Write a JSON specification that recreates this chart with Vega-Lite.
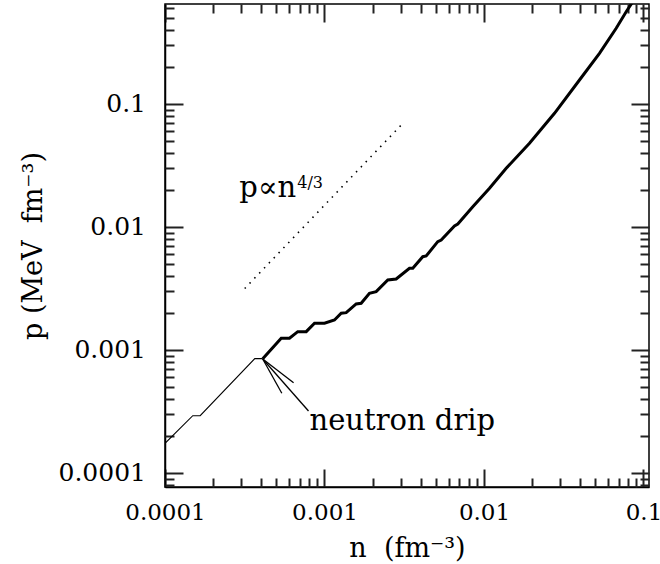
{
  "$schema": "https://vega.github.io/schema/vega-lite/v6.json",
  "width": 484,
  "height": 483,
  "autosize": {"type": "none"},
  "padding": {"left": 165, "top": 4, "right": 11, "bottom": 77},
  "background": "white",
  "config": {
    "view": {"stroke": "black", "strokeWidth": 1.5},
    "axis": {
      "domainColor": "black", "domainWidth": 1.5,
      "labelFont": "DejaVu Serif", "labelFontSize": 25, "labelColor": "black",
      "titleFont": "DejaVu Serif", "titleFontSize": 27, "titleFontWeight": "normal", "titleColor": "black",
      "grid": false, "labelFlush": false, "labelOverlap": false, "labelBound": false
    },
    "text": {"font": "DejaVu Serif", "color": "black"}
  },
  "datasets": {
    "outer": [
      {"n": 0.0001, "p": 0.0001743},
      {"n": 0.0001493, "p": 0.0002923},
      {"n": 0.0001662, "p": 0.0002923},
      {"n": 0.0003656, "p": 0.00085},
      {"n": 0.00041, "p": 0.00085}
    ],
    "inner": [
      {"n": 0.00041, "p": 0.00085},
      {"n": 0.0005354, "p": 0.001245},
      {"n": 0.0006035, "p": 0.001245},
      {"n": 0.00068, "p": 0.001409},
      {"n": 0.000768, "p": 0.001409},
      {"n": 0.000866, "p": 0.001649},
      {"n": 0.001, "p": 0.001649},
      {"n": 0.001155, "p": 0.001753},
      {"n": 0.001273, "p": 0.001988},
      {"n": 0.001368, "p": 0.00201},
      {"n": 0.00158, "p": 0.002366},
      {"n": 0.001698, "p": 0.002397},
      {"n": 0.001914, "p": 0.002891},
      {"n": 0.002109, "p": 0.002979},
      {"n": 0.002494, "p": 0.003708},
      {"n": 0.002814, "p": 0.003778},
      {"n": 0.00341, "p": 0.004615},
      {"n": 0.003577, "p": 0.004615},
      {"n": 0.004132, "p": 0.005734},
      {"n": 0.004341, "p": 0.00581},
      {"n": 0.005132, "p": 0.007595},
      {"n": 0.005392, "p": 0.00784},
      {"n": 0.006531, "p": 0.01019},
      {"n": 0.00685, "p": 0.01057},
      {"n": 0.008507, "p": 0.01462},
      {"n": 0.01083, "p": 0.02064},
      {"n": 0.01378, "p": 0.03},
      {"n": 0.01929, "p": 0.0479},
      {"n": 0.02767, "p": 0.084},
      {"n": 0.0397, "p": 0.1567},
      {"n": 0.05297, "p": 0.2584},
      {"n": 0.06744, "p": 0.4125},
      {"n": 0.0779, "p": 0.5628},
      {"n": 0.0857, "p": 0.679}
    ],
    "slope": [
      {"n": 0.000316, "p": 0.00316},
      {"n": 0.00313, "p": 0.0705}
    ],
    "arrow": [
      {"n": 0.00041, "p": 0.000845, "n2": 0.00064, "p2": 0.000542},
      {"n": 0.00041, "p": 0.000845, "n2": 0.00054, "p2": 0.000445},
      {"n": 0.00041, "p": 0.000845, "n2": 0.000794, "p2": 0.000319}
    ],
    "notes": [
      {"n": 0.000665, "p": 0.01763, "label": "p∝n", "kind": "main"},
      {"n": 0.000665, "p": 0.02075, "label": "4/3", "kind": "sup"},
      {"n": 0.000805, "p": 0.0002237, "label": "neutron drip", "kind": "drip"}
    ]
  },
  "resolve": {"axis": {"x": "independent", "y": "independent"}},
  "layer": [
    {
      "data": {"name": "outer"},
      "mark": {"type": "line", "color": "black", "strokeWidth": 1.1, "clip": true},
      "encoding": {
        "x": {
          "field": "n", "type": "quantitative",
          "scale": {"type": "log", "domain": [0.0001, 0.1083], "nice": false},
          "axis": {
            "orient": "bottom",
            "values": [0.0001, 0.001, 0.01, 0.1],
            "format": "~g",
            "tickSize": -18, "tickColor": "#222222", "tickWidth": 2,
            "labelPadding": 32.5,
            "labelFontSize": 23,
            "title": "n\u00a0 (fm⁻³)",
            "titleY": 69,
            "titleBaseline": "alphabetic"
          }
        },
        "y": {
          "field": "p", "type": "quantitative",
          "scale": {"type": "log", "domain": [0.0000769, 0.65], "nice": false},
          "axis": {
            "orient": "left",
            "values": [0.0001, 0.001, 0.01, 0.1],
            "format": "~g",
            "tickSize": -18, "tickColor": "#222222", "tickWidth": 2,
            "labelPadding": 37.5,
            "title": "p\u00a0(MeV\u00a0 fm⁻³)",
            "titleAngle": 270,
            "titleX": -132,
            "titleY": 241.5,
            "titleAlign": "center",
            "titleBaseline": "middle"
          }
        }
      }
    },
    {
      "data": {"name": "inner"},
      "mark": {"type": "line", "color": "black", "strokeWidth": 3, "clip": true},
      "encoding": {
        "x": {
          "field": "n", "type": "quantitative",
          "scale": {"type": "log", "domain": [0.0001, 0.1083], "nice": false},
          "axis": {"orient": "top", "values": [0.0001, 0.001, 0.01, 0.1], "labels": false, "domain": false, "tickSize": -18, "tickColor": "#222222", "tickWidth": 2, "title": null}
        },
        "y": {
          "field": "p", "type": "quantitative",
          "scale": {"type": "log", "domain": [0.0000769, 0.65], "nice": false},
          "axis": {"orient": "right", "values": [0.0001, 0.001, 0.01, 0.1], "labels": false, "domain": false, "tickSize": -18, "tickColor": "#222222", "tickWidth": 2, "title": null}
        }
      }
    },
    {
      "data": {"name": "slope"},
      "mark": {"type": "line", "color": "black", "strokeWidth": 1.6, "strokeDash": [1.5, 5.5], "clip": true},
      "encoding": {
        "x": {
          "field": "n", "type": "quantitative",
          "scale": {"type": "log", "domain": [0.0001, 0.1083], "nice": false},
          "axis": {"orient": "bottom", "values": [0.0002,0.0003,0.0004,0.0005,0.0006,0.0007,0.0008,0.0009,0.002,0.003,0.004,0.005,0.006,0.007,0.008,0.009,0.02,0.03,0.04,0.05,0.06,0.07,0.08,0.09], "labels": false, "domain": false, "tickSize": -9, "tickColor": "#222222", "tickWidth": 2, "title": null}
        },
        "y": {
          "field": "p", "type": "quantitative",
          "scale": {"type": "log", "domain": [0.0000769, 0.65], "nice": false},
          "axis": {"orient": "left", "values": [0.00008,0.00009,0.0002,0.0003,0.0004,0.0005,0.0006,0.0007,0.0008,0.0009,0.002,0.003,0.004,0.005,0.006,0.007,0.008,0.009,0.02,0.03,0.04,0.05,0.06,0.07,0.08,0.09,0.2,0.3,0.4,0.5,0.6], "labels": false, "domain": false, "tickSize": -9, "tickColor": "#222222", "tickWidth": 2, "title": null}
        }
      }
    },
    {
      "data": {"name": "arrow"},
      "mark": {"type": "rule", "color": "black", "strokeWidth": 1.3},
      "encoding": {
        "x": {
          "field": "n", "type": "quantitative",
          "scale": {"type": "log", "domain": [0.0001, 0.1083], "nice": false},
          "axis": {"orient": "top", "values": [0.0002,0.0003,0.0004,0.0005,0.0006,0.0007,0.0008,0.0009,0.002,0.003,0.004,0.005,0.006,0.007,0.008,0.009,0.02,0.03,0.04,0.05,0.06,0.07,0.08,0.09], "labels": false, "domain": false, "tickSize": -9, "tickColor": "#222222", "tickWidth": 2, "title": null}
        },
        "y": {
          "field": "p", "type": "quantitative",
          "scale": {"type": "log", "domain": [0.0000769, 0.65], "nice": false},
          "axis": {"orient": "right", "values": [0.00008,0.00009,0.0002,0.0003,0.0004,0.0005,0.0006,0.0007,0.0008,0.0009,0.002,0.003,0.004,0.005,0.006,0.007,0.008,0.009,0.02,0.03,0.04,0.05,0.06,0.07,0.08,0.09,0.2,0.3,0.4,0.5,0.6], "labels": false, "domain": false, "tickSize": -9, "tickColor": "#222222", "tickWidth": 2, "title": null}
        },
        "x2": {"field": "n2"},
        "y2": {"field": "p2"}
      }
    },
    {
      "data": {"name": "notes"},
      "transform": [{"filter": "datum.kind === 'main'"}],
      "mark": {"type": "text", "align": "right", "baseline": "alphabetic", "fontSize": 29},
      "encoding": {
        "x": {"field": "n", "type": "quantitative", "scale": {"type": "log", "domain": [0.0001, 0.1083], "nice": false}, "axis": null},
        "y": {"field": "p", "type": "quantitative", "scale": {"type": "log", "domain": [0.0000769, 0.65], "nice": false}, "axis": null},
        "text": {"field": "label"}
      }
    },
    {
      "data": {"name": "notes"},
      "transform": [{"filter": "datum.kind === 'sup'"}],
      "mark": {"type": "text", "align": "left", "baseline": "alphabetic", "fontSize": 16, "dx": 1},
      "encoding": {
        "x": {"field": "n", "type": "quantitative", "scale": {"type": "log", "domain": [0.0001, 0.1083], "nice": false}, "axis": null},
        "y": {"field": "p", "type": "quantitative", "scale": {"type": "log", "domain": [0.0000769, 0.65], "nice": false}, "axis": null},
        "text": {"field": "label"}
      }
    },
    {
      "data": {"name": "notes"},
      "transform": [{"filter": "datum.kind === 'drip'"}],
      "mark": {"type": "text", "align": "left", "baseline": "alphabetic", "fontSize": 29},
      "encoding": {
        "x": {"field": "n", "type": "quantitative", "scale": {"type": "log", "domain": [0.0001, 0.1083], "nice": false}, "axis": null},
        "y": {"field": "p", "type": "quantitative", "scale": {"type": "log", "domain": [0.0000769, 0.65], "nice": false}, "axis": null},
        "text": {"field": "label"}
      }
    }
  ]
}
